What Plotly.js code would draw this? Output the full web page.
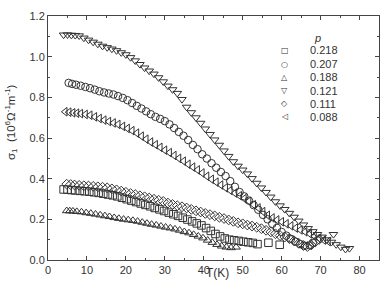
<!DOCTYPE html>
<html><head><meta charset="utf-8">
<script src="https://cdn.plot.ly/plotly-3.0.1.min.js"></script>
<style>html,body{margin:0;padding:0;background:#fff}</style>
</head><body><div id="chart" style="width:383px;height:288px"></div>
<script>
// series labels (doping p)
const seriesNames = ["0.218","0.207","0.188","0.121","0.111","0.088"];
const seriesSymbols = ["square-open","circle-open","triangle-up-open","triangle-down-open","diamond-open","triangle-left-open"];
const legendGlyphs = ["\u25A1","\u25CB","\u25B3","\u25BD","\u25C7","\u25C1"];

// p = 0.218 (squares)
const T_218 = [4.0,5.0,6.0,7.0,8.2,9.4,10.6,11.8,13.0,14.2,15.4,16.6,17.8,19.0,20.2,21.4,22.6,23.8,25.0,26.2,27.4,28.6,29.8,31.0,32.2,33.4,34.6,35.8,37.0,38.2,39.4,40.6,41.8,43.0,44.2,45.4,46.6,47.8,49.0,50.2,51.4,52.6,53.8,56.6,59.5];
const s_218 = [0.347,0.346,0.344,0.342,0.340,0.338,0.336,0.333,0.330,0.326,0.322,0.318,0.313,0.306,0.299,0.292,0.285,0.278,0.271,0.264,0.256,0.249,0.241,0.233,0.225,0.217,0.208,0.199,0.190,0.180,0.170,0.157,0.143,0.128,0.116,0.106,0.100,0.097,0.094,0.090,0.087,0.084,0.078,0.085,0.075];
// p = 0.207 (circles)
const T_207 = [5.3,6.2,7.2,8.4,9.6,10.8,12.0,13.2,14.4,15.6,16.8,18.0,19.2,20.4,21.6,22.8,24.0,25.2,26.4,27.6,28.8,30.0,31.2,32.4,33.6,34.8,36.0,37.2,38.4,39.6,40.8,42.0,43.2,44.4,45.6,46.8,48.0,49.2,50.4,51.6,52.8,54.0,55.2,56.4,57.6,58.8,60.0,61.2,62.4,63.6,64.8,66.0,67.2,68.0];
const s_207 = [0.871,0.866,0.862,0.857,0.851,0.845,0.838,0.830,0.824,0.819,0.814,0.806,0.797,0.786,0.772,0.758,0.745,0.731,0.717,0.704,0.694,0.683,0.667,0.649,0.630,0.611,0.590,0.566,0.545,0.520,0.499,0.476,0.454,0.433,0.413,0.388,0.360,0.334,0.313,0.292,0.270,0.247,0.222,0.200,0.178,0.158,0.138,0.120,0.104,0.090,0.078,0.070,0.072,0.085];
// p = 0.188 (up triangles)
const T_188 = [4.8,5.6,6.4,7.4,8.6,9.8,11.0,12.2,13.4,14.6,15.8,17.0,18.2,19.4,20.6,21.8,23.0,24.2,25.4,26.6,27.8,29.0,30.2,31.4,32.6,33.8,35.0,36.2,37.4,38.6,39.8,41.0,42.2,43.4,44.6,45.8,47.0,48.3];
const s_188 = [0.242,0.241,0.240,0.238,0.236,0.232,0.229,0.225,0.221,0.217,0.213,0.208,0.204,0.200,0.197,0.194,0.190,0.185,0.180,0.175,0.171,0.166,0.161,0.157,0.152,0.146,0.139,0.133,0.125,0.117,0.108,0.097,0.086,0.076,0.068,0.063,0.060,0.063];
// p = 0.121 (down triangles)
const T_121 = [4.0,5.0,6.0,7.0,8.0,9.2,10.4,11.6,12.8,14.0,15.2,16.4,17.6,18.8,20.0,21.2,22.4,23.6,24.8,26.0,27.2,28.4,29.6,30.8,32.0,33.2,34.4,35.6,36.8,38.0,39.2,40.4,41.6,42.8,44.0,45.2,46.4,47.6,48.8,50.0,51.2,52.4,53.6,54.8,56.0,57.2,58.4,59.6,60.8,62.0,63.2,64.4,65.6,66.8,68.0,69.2,70.4,71.6,72.8,73.3,74.0,75.2,76.4,77.4];
const s_121 = [1.107,1.108,1.106,1.105,1.103,1.092,1.082,1.072,1.062,1.052,1.045,1.038,1.030,1.020,1.010,0.996,0.980,0.962,0.945,0.930,0.915,0.897,0.877,0.856,0.838,0.820,0.790,0.752,0.725,0.700,0.673,0.645,0.618,0.591,0.565,0.537,0.510,0.484,0.462,0.443,0.424,0.401,0.378,0.355,0.333,0.310,0.287,0.267,0.249,0.230,0.211,0.192,0.173,0.155,0.140,0.126,0.113,0.100,0.088,0.126,0.076,0.064,0.053,0.057];
// p = 0.111 (diamonds)
const T_111 = [4.8,5.8,6.8,8.0,9.2,10.4,11.6,12.8,14.0,15.2,16.4,17.6,18.8,20.0,21.2,22.4,23.6,24.8,26.0,27.2,28.4,29.6,30.8,32.0,33.2,34.4,35.6,36.8,38.0,39.2,40.4,41.6,42.8,44.0,45.2,46.4,47.6,48.8,50.0,51.2,52.4,53.6,54.8,56.0,57.2,58.4,59.6,60.8,62.0,63.2,64.4,65.6,66.6,67.6,68.6,69.6];
const s_111 = [0.373,0.371,0.369,0.367,0.365,0.364,0.362,0.360,0.358,0.355,0.350,0.345,0.339,0.333,0.327,0.322,0.316,0.311,0.305,0.299,0.294,0.288,0.280,0.273,0.267,0.262,0.256,0.249,0.242,0.236,0.229,0.223,0.217,0.210,0.204,0.197,0.190,0.183,0.178,0.172,0.167,0.161,0.154,0.146,0.138,0.129,0.120,0.113,0.105,0.094,0.082,0.071,0.066,0.074,0.088,0.101];
// p = 0.088 (left triangles)
const T_088 = [4.4,5.4,6.4,7.4,8.4,9.6,10.8,12.0,13.2,14.4,15.6,16.8,18.0,19.2,20.4,21.6,22.8,24.0,25.2,26.4,27.6,28.8,30.0,31.2,32.4,33.6,34.8,36.0,37.2,38.4,39.6,40.8,42.0,43.2,44.4,45.6,46.8,48.0,49.2,50.4,51.6,52.8,54.0,55.2,56.4,57.6,58.8,60.0,61.2,62.4,63.6,64.8,66.0,67.2,68.4,69.6,70.8,72.0];
const s_088 = [0.729,0.727,0.724,0.722,0.720,0.716,0.712,0.704,0.696,0.688,0.681,0.674,0.667,0.657,0.647,0.636,0.624,0.609,0.594,0.580,0.567,0.554,0.540,0.528,0.514,0.500,0.486,0.471,0.457,0.443,0.428,0.412,0.397,0.383,0.369,0.355,0.342,0.329,0.316,0.302,0.289,0.272,0.256,0.238,0.220,0.207,0.197,0.188,0.178,0.168,0.157,0.148,0.139,0.129,0.118,0.106,0.098,0.091];

const xs = [T_218,T_207,T_188,T_121,T_111,T_088];
const ys = [s_218,s_207,s_188,s_121,s_111,s_088];

const ink = '#333';
const traces = seriesNames.map((n,i)=>({
  x: xs[i], y: ys[i], name: n, type:'scatter', mode:'markers',
  marker:{symbol: seriesSymbols[i], size:7.5, color: ink, line:{color: ink, width:1}},
  showlegend:false
}));

const font = {family:'Liberation Sans, Arial, sans-serif', size:11, color:ink};
const annotations = [];
// manual legend
annotations.push({xref:'paper',yref:'paper',x:(317-48)/331,y:(260-37.7)/244,text:'<i>p</i>',showarrow:false,xanchor:'center',yanchor:'middle',font:font});
const rowY = [50.3,64,77.3,91,103.7,116.5];
seriesNames.forEach((n,i)=>{
  annotations.push({xref:'paper',yref:'paper',x:(284.5-48)/331,y:(260-rowY[i])/244,text:legendGlyphs[i],showarrow:false,xanchor:'center',yanchor:'middle',font:{family:'DejaVu Sans',size:8,color:ink}});
  annotations.push({xref:'paper',yref:'paper',x:(308-48)/331,y:(260-rowY[i])/244,text:n,showarrow:false,xanchor:'left',yanchor:'middle',font:font});
});
// axis titles
annotations.push({xref:'paper',yref:'paper',x:(11-48)/331,y:(260-122)/244,textangle:-90,xanchor:'center',yanchor:'middle',showarrow:false,
  text:'σ<sub>1</sub>  (10<sup>6</sup>Ω<sup>-1</sup>m<sup>-1</sup>)',font:{family:font.family,size:11.5,color:ink}});
annotations.push({xref:'paper',yref:'paper',x:(217-48)/331,y:(260-273)/244,xanchor:'center',yanchor:'middle',showarrow:false,text:'T(K)',font:{family:font.family,size:12,color:ink}});

const layout = {
  width:383, height:288,
  margin:{l:48,r:4,t:16,b:28},
  paper_bgcolor:'#fff', plot_bgcolor:'#fff',
  font: font,
  showlegend:false,
  xaxis:{range:[0,85], dtick:10, tick0:0, ticks:'inside', ticklen:4, tickcolor:'#444', showline:true, linecolor:'#444', linewidth:1, mirror:'ticks',
    showgrid:false, zeroline:false, tickfont:font, minor:{dtick:5, ticks:'inside', ticklen:2, tickcolor:'#444', showgrid:false}},
  yaxis:{range:[0,1.2], dtick:0.2, tick0:0, tickformat:'.1f', ticks:'inside', ticklen:4, tickcolor:'#444', showline:true, linecolor:'#444', linewidth:1, mirror:'ticks',
    showgrid:false, zeroline:false, tickfont:font, minor:{dtick:0.1, ticks:'inside', ticklen:2, tickcolor:'#444', showgrid:false}},
  annotations: annotations
};
Plotly.newPlot('chart', traces, layout, {displayModeBar:false, staticPlot:true});
</script></body></html>
